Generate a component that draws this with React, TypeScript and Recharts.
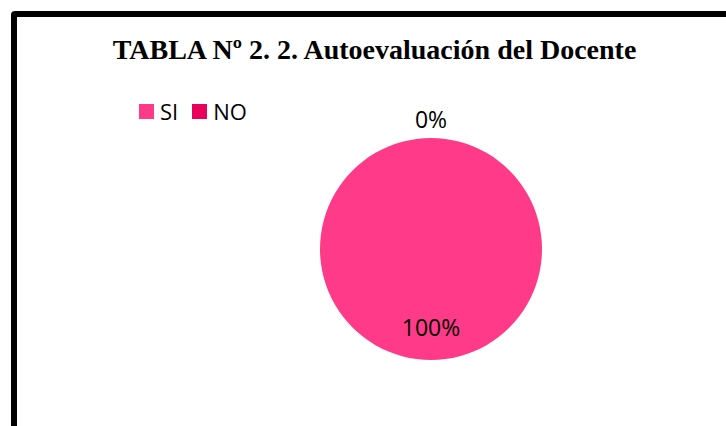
import React from "react";
import { PieChart, Pie, Cell } from "recharts";

const categories = ["SI", "NO"];
const values = [100, 0];
const percentLabels = ["100%", "0%"];
const colors = ["#FF3A88", "#E8005C"];

const data = categories.map((name, i) => ({ name, value: values[i] }));

const RAD = Math.PI / 180;

const renderLabel = (props: any) => {
  const { cx, cy, midAngle, outerRadius, index } = props;
  const r = index === 0 ? outerRadius * 0.7 : outerRadius + 19;
  const x = cx + r * Math.cos(-midAngle * RAD);
  const y = cy + r * Math.sin(-midAngle * RAD);
  return (
    <text
      x={x}
      y={y}
      textAnchor="middle"
      dominantBaseline="central"
      fontFamily="'Open Sans', 'Noto Sans', sans-serif"
      fontSize={23}
      fill="#000"
    >
      {percentLabels[index]}
    </text>
  );
};

export default function App() {
  return (
    <div style={{ position: "absolute", left: 0, top: 0, width: 726, height: 426, background: "#fff", overflow: "hidden" }}>
      <div
        style={{
          position: "absolute",
          left: 11,
          top: 11,
          width: 800,
          height: 500,
          border: "6px solid #000",
          borderRadius: 4,
          boxSizing: "border-box",
        }}
      />
      <div
        style={{
          position: "absolute",
          left: 0,
          width: 749,
          top: 34,
          textAlign: "center",
          fontFamily: "'Liberation Serif', 'Times New Roman', serif",
          fontWeight: "bold",
          fontSize: 28,
          lineHeight: "32px",
          color: "#000",
          whiteSpace: "nowrap",
        }}
      >
        TABLA Nº 2. 2. Autoevaluación del Docente
      </div>
      <div
        style={{
          position: "absolute",
          left: 139,
          top: 96,
          display: "flex",
          alignItems: "center",
          fontFamily: "'Open Sans', sans-serif",
          fontSize: 22,
          lineHeight: "30px",
          color: "#000",
        }}
      >
        {categories.map((c, i) => (
          <div key={c} style={{ display: "flex", alignItems: "center", marginRight: 14 }}>
            <div style={{ width: 15, height: 15, background: colors[i], marginRight: 6 }} />
            <span>{c}</span>
          </div>
        ))}
      </div>
      <div style={{ position: "absolute", left: 0, top: 0 }}>
        <PieChart width={726} height={426} margin={{ top: 0, right: 0, bottom: 0, left: 0 }}>
          <Pie
            data={data}
            dataKey="value"
            nameKey="name"
            cx={431}
            cy={249}
            outerRadius={111}
            startAngle={90}
            endAngle={-270}
            stroke="none"
            label={renderLabel}
            labelLine={false}
            isAnimationActive={false}
          >
            {data.map((d, i) => (
              <Cell key={d.name} fill={colors[i]} />
            ))}
          </Pie>
        </PieChart>
      </div>
    </div>
  );
}
